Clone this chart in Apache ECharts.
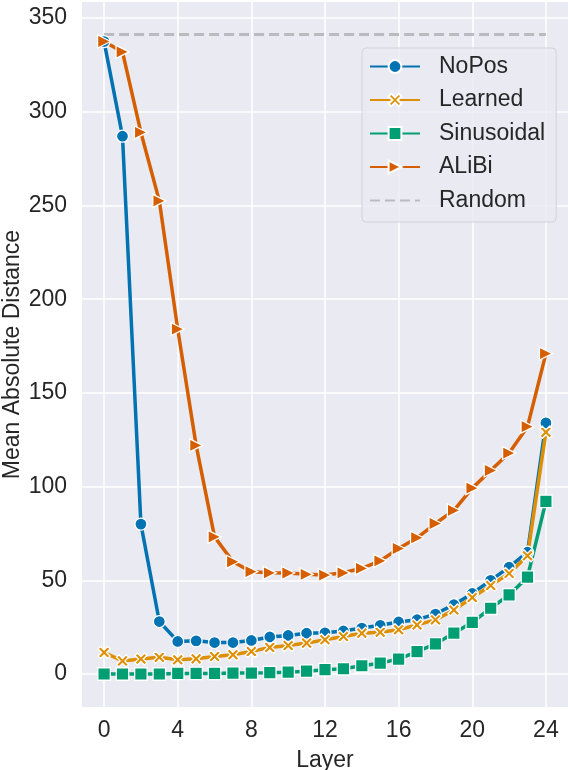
<!DOCTYPE html>
<html>
<head>
<meta charset="utf-8">
<script src="https://cdn.jsdelivr.net/npm/echarts@6/dist/echarts.min.js"></script>
<style>
html,body{margin:0;padding:0;background:#fff;}
#chart{width:568px;height:770px;}
</style>
</head>
<body>
<div id="chart"></div>
<script>
const layers = [0,1,2,3,4,5,6,7,8,9,10,11,12,13,14,15,16,17,18,19,20,21,22,23,24];
const nopos = [337.5, 287, 80, 28, 17.4, 17.7, 16.8, 16.8, 17.9, 19.8, 20.6, 21.8, 22, 23, 24.5, 26, 27.8, 29, 32, 37, 43, 50, 57, 65, 134];
const learned = [11.5, 7, 8, 8.9, 7.6, 8.1, 9.4, 10.3, 12, 14.2, 15.2, 16.5, 18.3, 20, 21.8, 22.3, 23.6, 26.2, 28.9, 34.2, 40.8, 47.2, 53.7, 63.1, 129];
const sinusoidal = [0, 0, 0, 0, 0.3, 0.3, 0.3, 0.5, 0.5, 0.7, 1, 1.5, 2.3, 2.8, 4.4, 5.8, 8, 12, 16.1, 21.8, 27.6, 35.1, 42.2, 51.7, 92.1];
const alibi = [337.5, 332, 289, 252.5, 184, 122, 73.2, 59.9, 54.6, 54, 53.9, 53.2, 52.8, 54, 56.4, 60.4, 67, 72.7, 80.3, 87.3, 99.2, 108.6, 117.9, 132, 171];
const randomVal = [341.3, 341.3, 341.3, 341.3, 341.3, 341.3, 341.3, 341.3, 341.3, 341.3, 341.3, 341.3, 341.3, 341.3, 341.3, 341.3, 341.3, 341.3, 341.3, 341.3, 341.3, 341.3, 341.3, 341.3, 341.3];
const xTicks = [0,4,8,12,16,20,24];
const yTicks = [0,50,100,150,200,250,300,350];

const FONT = '"Liberation Sans", Arial, Helvetica, sans-serif';
const TXT = '#262626';
const xShape = 'path://M2,0 L5,3 L8,0 L10,2 L7,5 L10,8 L8,10 L5,7 L2,10 L0,8 L3,5 L0,2 Z';

function pairs(arr){ return layers.map((l,i)=>[l, arr[i]]); }

function mk(name, data, color, symbol, size, extra){
  return Object.assign({
    name: name, type: 'line', data: pairs(data),
    symbol: symbol, symbolSize: size, showAllSymbol: true,
    lineStyle: {color: color, width: 3.5},
    itemStyle: {color: color, borderColor: '#ffffff', borderWidth: 1.3},
    emphasis: {disabled: true},
    animation: false
  }, extra || {});
}

const chart = echarts.init(document.getElementById('chart'), null, {renderer: 'canvas'});
chart.setOption({
  animation: false,
  backgroundColor: '#ffffff',
  textStyle: {fontFamily: FONT},
  grid: {left: 82, right: 0, top: 2, bottom: 63, show: true, backgroundColor: '#EAEAF2', borderWidth: 0,
         containLabel: false, outerBoundsMode: 'none'},
  xAxis: {
    type: 'value', min: -1.2, max: 25.2,
    name: 'Layer', nameLocation: 'middle', nameGap: 42,
    nameTextStyle: {fontFamily: FONT, fontSize: 23, color: TXT},
    axisLine: {show: false}, axisTick: {show: false, customValues: xTicks},
    axisLabel: {customValues: xTicks, fontFamily: FONT, fontSize: 23, color: TXT, margin: 12},
    splitLine: {show: true, lineStyle: {color: '#ffffff', width: 1.5}}
  },
  yAxis: {
    type: 'value', min: -17.6, max: 358.6,
    name: 'Mean Absolute Distance', nameLocation: 'middle', nameGap: 58, nameMoveOverlap: false,
    nameTextStyle: {fontFamily: FONT, fontSize: 23, color: TXT},
    axisLine: {show: false}, axisTick: {show: false, customValues: yTicks},
    axisLabel: {customValues: yTicks, fontFamily: FONT, fontSize: 23, color: TXT, margin: 15},
    splitLine: {show: true, lineStyle: {color: '#ffffff', width: 1.5}}
  },
  legend: {
    orient: 'vertical', left: 362, top: 48,
    padding: [7, 11, 10, 7],
    itemGap: 10.5, itemWidth: 50, itemHeight: 16,
    backgroundColor: 'rgba(234,234,242,0.8)', borderColor: '#D2D2D8', borderWidth: 1, borderRadius: 4,
    textStyle: {fontFamily: FONT, fontSize: 23, color: TXT, lineHeight: 23, padding: [0,0,0,14]},
    data: ['NoPos','Learned','Sinusoidal','ALiBi', {name: 'Random', itemStyle: {opacity: 0}}]
  },
  series: [
    mk('NoPos', nopos, '#0173B2', 'circle', 12),
    mk('Learned', learned, '#DE8F05', xShape, 12),
    mk('Sinusoidal', sinusoidal, '#029E73', 'rect', 12.5),
    mk('ALiBi', alibi, '#D55E00', 'triangle', 13, {symbolRotate: -90}),
    {
      name: 'Random', type: 'line', data: pairs(randomVal), symbol: 'none',
      lineStyle: {color: '#BBBBBF', width: 3, type: [10, 5]},
      itemStyle: {color: '#BBBBBF'},
      emphasis: {disabled: true}, animation: false
    }
  ]
});
</script>
</body>
</html>
